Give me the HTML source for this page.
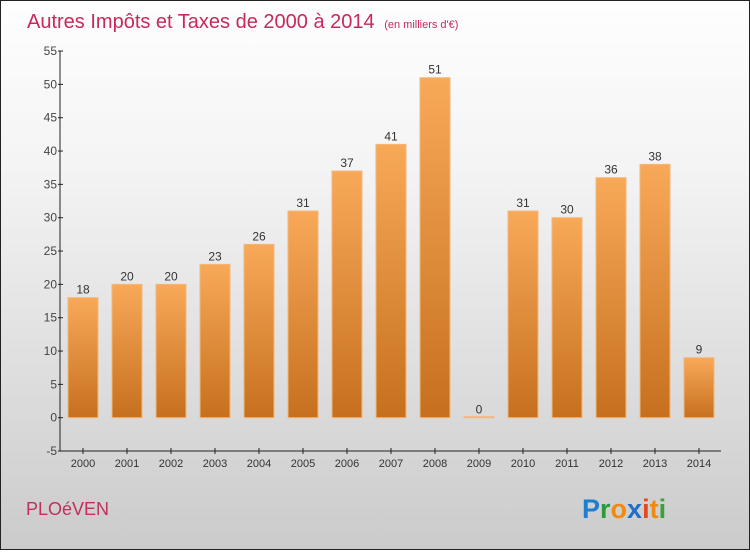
<!DOCTYPE html>
<html><head><meta charset="utf-8"><style>
body{margin:0}
#c{width:748px;height:548px;border:1px solid #222;background:linear-gradient(#fefefe,#f4f4f4 30%,#cbcbcb);position:relative;font-family:"Liberation Sans",sans-serif}
</style></head><body>
<div id="c">
<svg width="748" height="548">
<defs><linearGradient id="g" x1="0" y1="0" x2="0" y2="1"><stop offset="0" stop-color="#f8a958"/><stop offset="1" stop-color="#c6701f"/></linearGradient></defs>
<text x="26" y="27" font-size="20" fill="#c8285a">Autres Impôts et Taxes de 2000 à 2014 <tspan font-size="11" dx="4">(en milliers d'€)</tspan></text>
<g id="plot"></g>
<text x="25" y="514" font-size="18" fill="#c0305a">PLOéVEN</text>
<text x="581" y="517" font-size="27" font-weight="bold"><tspan fill="#1e7fd0">P</tspan><tspan fill="#2a9a3a">r</tspan><tspan fill="#f08a10">o</tspan><tspan fill="#1e6fc8">x</tspan><tspan fill="#e04a20">i</tspan><tspan fill="#f08a10">t</tspan><tspan fill="#3aa040">i</tspan></text>
</svg></div>
<script>
const years=["2000","2001","2002","2003","2004","2005","2006","2007","2008","2009","2010","2011","2012","2013","2014"];
const values=[18,20,20,23,26,31,37,41,51,0,31,30,36,38,9];
const yTicks=[-5,0,5,10,15,20,25,30,35,40,45,50,55];
const ns="http://www.w3.org/2000/svg",p=document.getElementById('plot');
const y=v=>416.7-(v)*400/60, x=i=>82+i*44;
function mk(t,a,txt){const e=document.createElementNS(ns,t);for(const k in a)e.setAttribute(k,a[k]);if(txt!==undefined)e.textContent=txt;p.appendChild(e);return e;}
let e=mk('line',{x1:59,y1:y(55),x2:59,y2:450,stroke:'#222'});

e=mk('line',{x1:59,y1:450,x2:720,y2:450,stroke:'#222'});

yTicks.forEach(v=>{mk('line',{x1:57,x2:62,y1:y(v),y2:y(v),stroke:'#222'});
e=mk('text',{x:56,y:y(v)+4,'font-size':12,fill:'#444','text-anchor':'end'},v);
});
years.forEach((yr,i)=>{const v=values[i];
mk('line',{x1:x(i),x2:x(i),y1:447,y2:453,stroke:'#222'});
e=mk('text',{x:x(i),y:466,'font-size':11,fill:'#333','text-anchor':'middle'},yr);

const h=Math.max(1,y(0)-y(v));
e=mk('rect',{x:x(i)-15,y:y(0)-h,width:30,height:h,fill:'url(#g)',stroke:'#f3b77a','stroke-width':1});

e=mk('text',{x:x(i),y:y(v)-4,'font-size':12,fill:'#333','text-anchor':'middle'},v);
});
</script>
</body></html>
